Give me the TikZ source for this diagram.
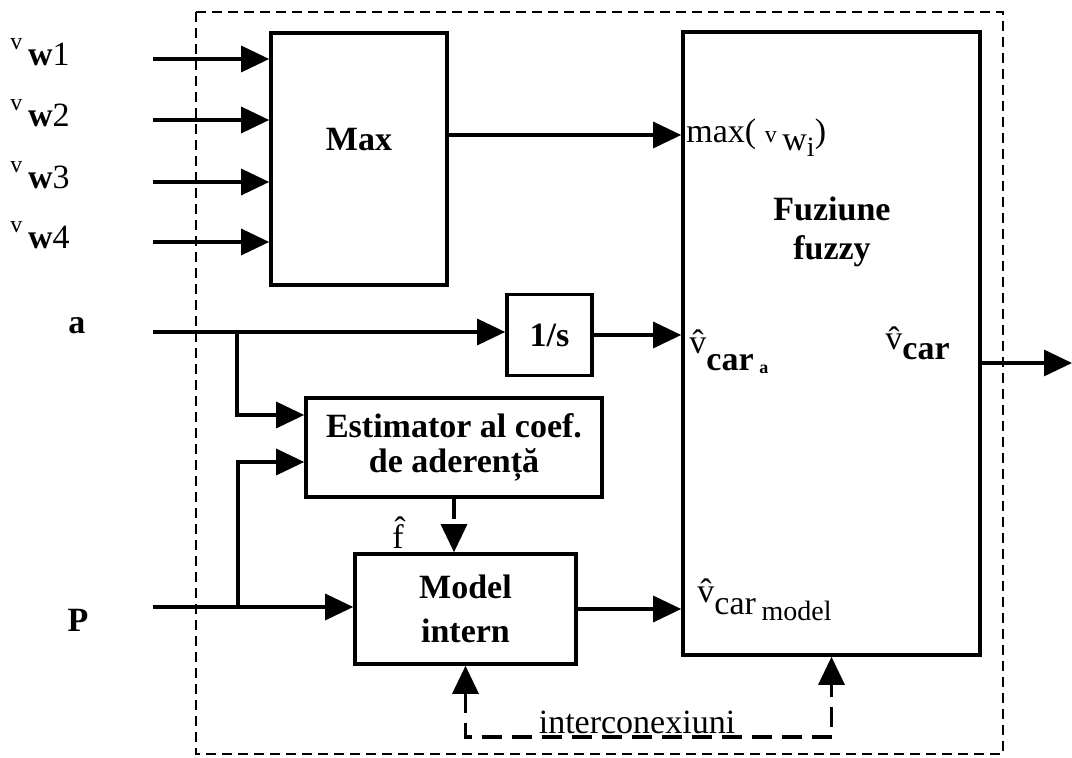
\documentclass[tikz,border=0pt]{standalone}
\usepackage{fontspec}
\setmainfont{Liberation Serif}
\usetikzlibrary{arrows.meta}
\newcommand{\tinyfs}{\fontsize{9}{10}\selectfont}
\newcommand{\smfs}{\fontsize{12}{14}\selectfont}
\newcommand{\midfs}{\fontsize{14}{16}\selectfont}

\begin{document}
\begin{tikzpicture}[x=0.5pt,y=-0.5pt,
    every node/.style={font=\fontsize{17}{20}\selectfont, inner sep=0pt},
    blk/.style={draw, line width=1.8pt},
    btxt/.style={font=\fontsize{17}{20}\selectfont\bfseries, align=center},
    arr/.style={line width=1.6pt, -{Triangle[length=14pt,width=13pt]}},
    link/.style={line width=1.6pt, dash pattern=on 10pt off 5pt}]
    \useasboundingbox (0,0) rectangle (1072,758);
    \draw[line width=0.8pt, dash pattern=on 5pt off 3pt] (196,12) rectangle (1003,754);

    \node[blk, minimum width=88pt, minimum height=126pt] (max) at (359,159) {};
    \node[btxt] (maxt) at (359,140) {Max};
    \node[blk, minimum width=148.5pt, minimum height=311.5pt] (fuz) at (831.5,343.5) {};
    \node[btxt, font=\fontsize{17}{19.5}\selectfont\bfseries] (fuzt) at (832,232) {Fuziune\\fuzzy};
    \node[blk, btxt, minimum width=42.5pt, minimum height=40.5pt] (integ) at (549.5,335) {1/s};
    \node[blk, btxt, font=\fontsize{17}{17.5}\selectfont\bfseries, minimum width=148pt, minimum height=49.5pt] (est) at (454,447.5) {Estimator al coef.\\de aderență};
    \node[blk, btxt, font=\fontsize{17}{22}\selectfont\bfseries, minimum width=110.5pt, minimum height=55pt] (model) at (465.5,609) {Model\\intern};

    \node (lw1) at (40,52) {\raisebox{1ex}{\smfs v}\,\textbf{w}1};
    \node (lw2) at (40,113) {\raisebox{1ex}{\smfs v}\,\textbf{w}2};
    \node (lw3) at (40,175) {\raisebox{1ex}{\smfs v}\,\textbf{w}3};
    \node (lw4) at (40,235) {\raisebox{1ex}{\smfs v}\,\textbf{w}4};
    \node[btxt] (la) at (77,326) {a};
    \node[btxt] (lp) at (78,620) {P};

    \coordinate (w1) at (153,59);
    \coordinate (w2) at (153,120);
    \coordinate (w3) at (153,182);
    \coordinate (w4) at (153,242);
    \coordinate (a) at (153,332);
    \coordinate (p) at (153,607);
    \coordinate (out) at (1072,363);

    \draw[arr] (w1) -- (w1 -| max.west);
    \draw[arr] (w2) -- (w2 -| max.west);
    \draw[arr] (w3) -- (w3 -| max.west);
    \draw[arr] (w4) -- (w4 -| max.west);
    \draw[arr] (max.east |- 0,135) -- (fuz.west |- 0,135);
    \draw[arr] (a) -- (a -| integ.west);
    \draw[arr] (integ.east) -- (integ.east -| fuz.west);
    \draw[arr] (237,332) |- (est.west |- 0,415);
    \draw[arr] (p) -- (p -| model.west);
    \draw[arr] (238,607) |- (est.west |- 0,462);
    \draw[arr] (model.east) -- (model.east -| fuz.west);
    \draw[arr, link] (est.south) -- (est.south |- model.north);
    \draw[arr] (fuz.east |- out) -- (out);
    \draw[link, {Triangle[length=14pt,width=13pt]}-{Triangle[length=14pt,width=13pt]}]
        (model.south) -- (model.south |- 0,737) -| (fuz.south);

    \node[anchor=west] (lmax) at (686,138) {max( {\smfs v}\,\raisebox{-0.5ex}{w\raisebox{-0.4ex}{\midfs i}})};
    \node[anchor=west] (lcara) at (689,352) {\^{v}\raisebox{-1.1ex}{\textbf{car}\,\raisebox{-0.2ex}{\tinyfs\bfseries a}}};
    \node[anchor=west] (lcar) at (885,343) {\^{v}\raisebox{-0.6ex}{\textbf{car}}};
    \node[anchor=west] (lcarm) at (697,600) {\^{v}\raisebox{-0.8ex}{car\,\raisebox{-0.4ex}{\midfs model}}};
    \node (lf) at (398,533) {\^{f}};
    \node (lint) at (637,722) {interconexiuni};
\end{tikzpicture}
\end{document}
